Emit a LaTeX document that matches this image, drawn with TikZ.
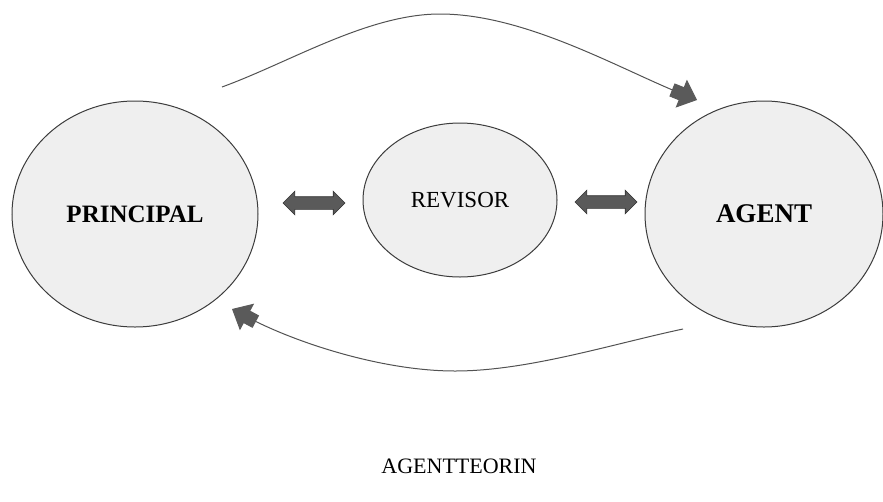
\documentclass[tikz,border=0pt]{standalone}
\usepackage{fontspec}
\setmainfont{Liberation Serif}
\usetikzlibrary{shapes.geometric,shapes.arrows,arrows.meta,calc}

\definecolor{bubblefill}{HTML}{EFEFEF}
\definecolor{bubbleline}{HTML}{3C3C3C}
\definecolor{arrowfill}{HTML}{5A5A5A}
\definecolor{arrowline}{HTML}{333333}

\tikzset{
  bubble/.style={ellipse, draw=bubbleline, fill=bubblefill, line width=1pt, inner sep=0pt},
  swaparrow/.style={double arrow, draw=arrowline, fill=arrowfill, line width=0.6pt,
    minimum height=62pt, inner sep=6pt, double arrow head extend=5.5pt},
  flow/.style={draw=arrowline!85, line width=1pt,
    -{Rectangle[length=12pt,width=14pt,sep=-2pt,color=arrowfill]Triangle[length=17pt,width=30pt,color=arrowfill]}},
}

\begin{document}
\begin{tikzpicture}[x=1pt,y=1pt]
\useasboundingbox (0,0) rectangle (883,-501);

% the three parties
\node[bubble, minimum width=246pt, minimum height=226pt] (principal) at (135,-214) {\fontsize{25}{30}\selectfont\bfseries PRINCIPAL};
\node[bubble, minimum width=194pt, minimum height=154pt] (revisor) at (460,-200) {\fontsize{23}{28}\selectfont REVISOR};
\node[bubble, minimum width=238pt, minimum height=226pt] (agent) at (764,-214) {\fontsize{27}{32}\selectfont\bfseries AGENT};

% two-way links
\node[swaparrow] (leftswap) at ($(principal.east)!0.5!(revisor.west)+(3.5,4)$) {};
\node[swaparrow] (rightswap) at ($(revisor.east)!0.5!(agent.west)+(5,5)$) {};

% curved flows
\coordinate (topstart) at (222,-87);
\coordinate (topcrest) at (440,-14);
\coordinate (toptip) at (697,-100);
\draw[flow] (topstart) to[out=20,in=180,looseness=0.8] (topcrest) to[out=0,in=158,looseness=0.8] (toptip);

\coordinate (lowstart) at (683,-329);
\coordinate (lowdip) at (455,-371);
\coordinate (lowtip) at (232,-309);
\draw[flow] (lowstart) to[out=192,in=0,looseness=0.8] (lowdip) to[out=180,in=-28,looseness=0.8] (lowtip);

\node (title) at (459,-466) {\fontsize{22}{26}\selectfont AGENTTEORIN};
\end{tikzpicture}
\end{document}
